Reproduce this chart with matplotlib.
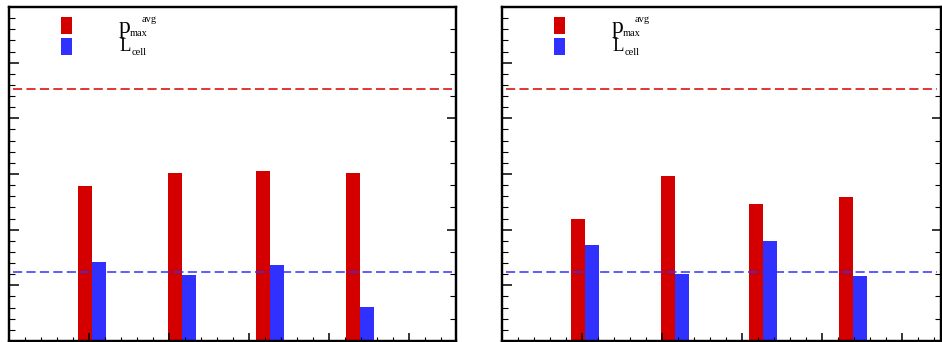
import matplotlib
matplotlib.use('Agg')
import matplotlib.pyplot as plt
import matplotlib.patches as mpatches
from matplotlib.ticker import MultipleLocator, NullFormatter

plt.rcParams['font.family'] = ['Liberation Serif', 'DejaVu Serif']

# group positions along x
x_pos = [1.04, 2.16, 3.26, 4.39]

# left panel
pmax_left = [2.78, 3.02, 3.05, 3.02]
lcell_left = [1.42, 1.19, 1.37, 0.61]

# right panel
pmax_right = [2.19, 2.96, 2.46, 2.59]
lcell_right = [1.72, 1.20, 1.80, 1.17]

# reference levels (dashed lines)
pmax_ref = 4.53
lcell_ref = 1.24

RED = '#d40000'
BLUE = '#3030ff'
BAR_W = 0.175
W, H = 942, 342


def fig_xy(px, py):
    # pixel position (from top-left) -> figure fraction
    return px / W, 1 - py / H


def draw_panel(fig, ax, pmax, lcell, xmax, dx):
    ax.bar(x_pos, pmax, width=-BAR_W, align='edge', color=RED, linewidth=0)
    ax.bar(x_pos, lcell, width=BAR_W, align='edge', color=BLUE, linewidth=0)
    ax.axhline(pmax_ref, color=RED, lw=1.1, dashes=(6, 2.8), xmin=0.01, xmax=0.99)
    ax.axhline(lcell_ref, color=BLUE, lw=1.1, dashes=(6, 2.8), xmin=0.01, xmax=0.99)

    ax.set_xlim(0, xmax)
    ax.set_ylim(0, 6)
    ax.xaxis.set_major_locator(MultipleLocator(1))
    ax.xaxis.set_minor_locator(MultipleLocator(0.2))
    ax.yaxis.set_major_locator(MultipleLocator(1))
    ax.yaxis.set_minor_locator(MultipleLocator(0.2))
    ax.xaxis.set_major_formatter(NullFormatter())
    ax.yaxis.set_major_formatter(NullFormatter())
    ax.tick_params(axis='y', which='major', direction='in', length=7.2, width=1.1, left=True, right=False)
    ax.tick_params(axis='y', which='minor', direction='in', length=4.3, width=0.8, left=True, right=False)
    ax.tick_params(axis='x', which='major', direction='in', length=5.8, width=1.1, top=False)
    ax.tick_params(axis='x', which='minor', direction='in', length=3.0, width=0.8, top=False)
    for s in ax.spines.values():
        s.set_linewidth(1.6)

    # secondary scale on the right spine
    ax2 = ax.twinx()
    ax2.set_ylim(0, 6)
    ax2.yaxis.set_major_locator(MultipleLocator(2))
    ax2.yaxis.set_minor_locator(MultipleLocator(0.4))
    ax2.yaxis.set_major_formatter(NullFormatter())
    ax2.tick_params(axis='y', which='major', direction='in', length=6.5, width=1.1)
    ax2.tick_params(axis='y', which='minor', direction='in', length=4.3, width=0.8)
    for s in ax2.spines.values():
        s.set_linewidth(1.6)

    # legend boxes
    for y0, c in [(34, RED), (55, BLUE)]:
        x, y = fig_xy(61 + dx, y0)
        fig.patches.append(mpatches.Rectangle((x, y), 11 / W, 17 / H, transform=fig.transFigure,
                                              color=c, lw=0, figure=fig))
    # legend labels (ROOT style sub/superscripts)
    fig.text(*fig_xy(119 + dx, 33), 'p', fontsize=17, va='baseline')
    fig.text(*fig_xy(130 + dx, 35.5), 'max', fontsize=7.5, va='baseline')
    fig.text(*fig_xy(142 + dx, 22.5), 'avg', fontsize=7.5, va='baseline')
    fig.text(*fig_xy(119.5 + dx, 51), 'L', fontsize=13.5, va='baseline')
    fig.text(*fig_xy(131.5 + dx, 55), 'cell', fontsize=7.5, va='baseline')


fig = plt.figure(figsize=(9.42, 3.42), dpi=100)
ax_l = fig.add_axes([9 / W, 1 / H, 447 / W, 334 / H])
ax_r = fig.add_axes([502 / W, 1 / H, 439 / W, 334 / H])

draw_panel(fig, ax_l, pmax_left, lcell_left, 447 / 80, 0)
draw_panel(fig, ax_r, pmax_right, lcell_right, 439 / 80, 493)

fig.savefig('out.png', dpi=100)
